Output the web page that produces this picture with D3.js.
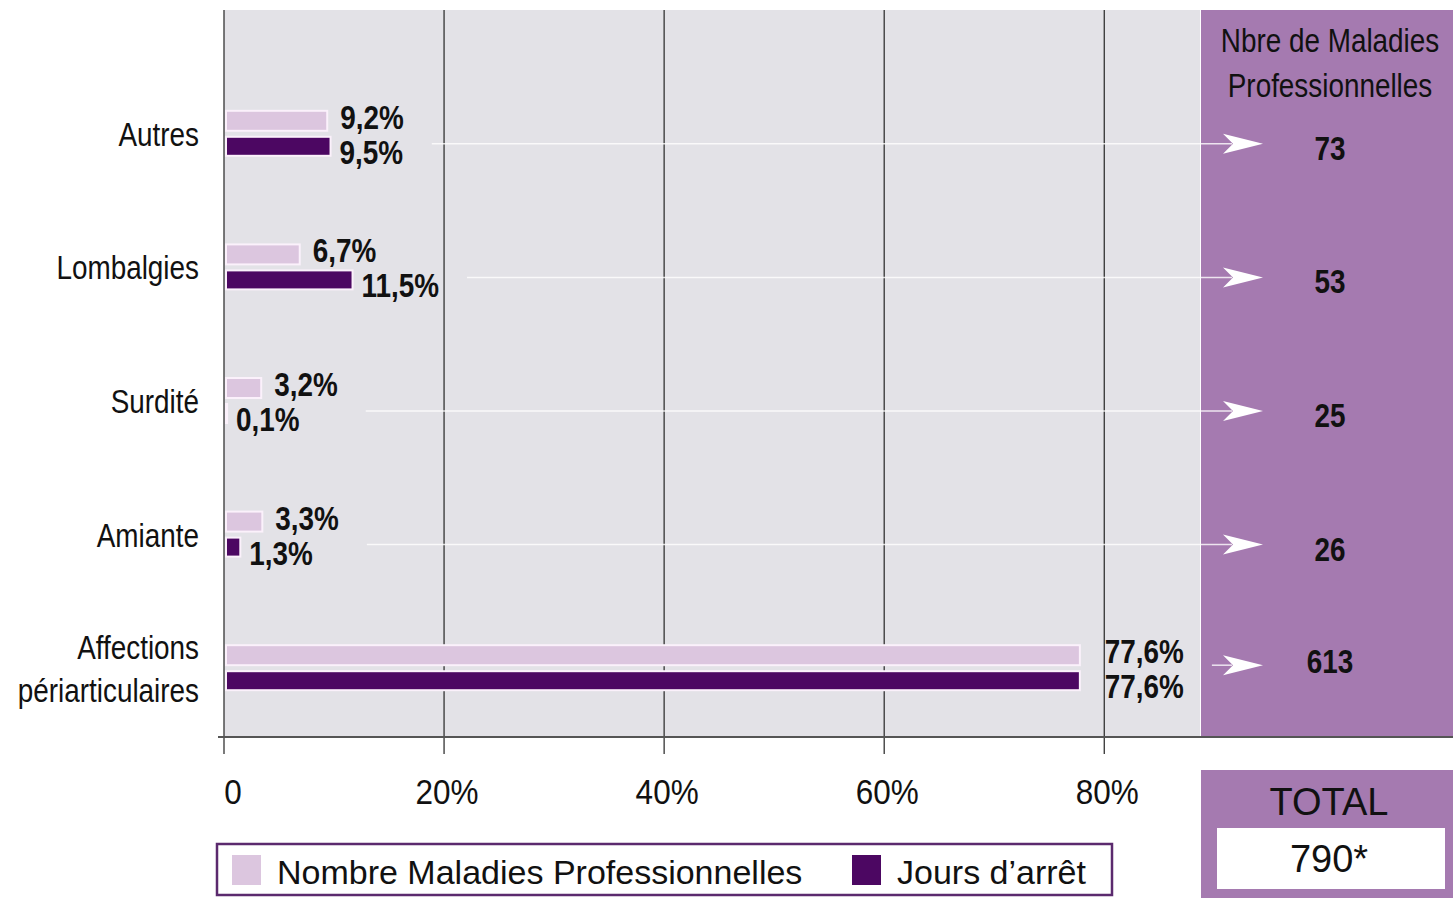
<!DOCTYPE html>
<html>
<head>
<meta charset="utf-8">
<script src="https://cdn.jsdelivr.net/npm/d3@7"></script>
<style>
  html, body { margin: 0; padding: 0; background: #fff; }
  svg { display: block; }
</style>
</head>
<body>
<div id="chart"></div>
<script>
// Data
const categories = ["Autres", "Lombalgies", "Surdité", "Amiante", "Affections périarticulaires"];
const nbMaladiesPct = [9.2, 6.7, 3.2, 3.3, 77.6];
const joursArretPct = [9.5, 11.5, 0.1, 1.3, 77.6];
const nbMaladies = [73, 53, 25, 26, 613];
const totalLabel = "790*";
const xTicks = [0, 20, 40, 60, 80];
const xTickLabels = ["0", "20%", "40%", "60%", "80%"];
const seriesNames = ["Nombre Maladies Professionnelles", "Jours d’arrêt"];
const panelTitle = ["Nbre de Maladies", "Professionnelles"];

function drawChart() {
  const width = 1453;
  const height = 898;
  const top = 10;
  const axisY = 737;
  const xMax = 88.7;
  const squeeze = 0.82; // condensed look, no narrow font installed

  const lightCol = "#dcc6df";
  const darkCol = "#4c0762";
  const panelCol = "#a57ab0";
  const plotBg = "#e3e2e7";
  const sans = "'Liberation Sans', Arial, sans-serif";

  const svg = d3.select("#chart")
    .append("svg")
    .attr("width", width)
    .attr("height", height);

  const x = d3.scaleLinear().domain([0, xMax]).range([224, 1200]);
  const y = d3.scaleBand().domain(categories).range([67, 735]);
  const fmt = (v) => d3.format(".1f")(v).replace(".", ",") + "%";

  // condensed text helper
  function narrowText(parent, tx, ty, str, size, bold, anchor) {
    return parent.append("text")
      .attr("transform", `translate(${tx},${ty}) scale(${squeeze},1)`)
      .attr("text-anchor", anchor || "start")
      .style("font-family", sans)
      .style("font-size", size + "px")
      .style("font-weight", bold ? "bold" : "normal")
      .attr("fill", "#111")
      .text(str);
  }

  // Background of plot and right panel
  svg.append("rect")
    .attr("x", x(0)).attr("y", top)
    .attr("width", x(xMax) - x(0)).attr("height", axisY - top)
    .attr("fill", plotBg);

  svg.append("rect")
    .attr("x", x(xMax) + 1).attr("y", top)
    .attr("width", width - x(xMax) - 1).attr("height", axisY - top)
    .attr("fill", panelCol);

  // Vertical grid lines with ticks below the axis
  svg.selectAll(".grid")
    .data(xTicks)
    .enter()
    .append("line")
    .attr("x1", (d) => x(d)).attr("x2", (d) => x(d))
    .attr("y1", top).attr("y2", axisY + 17)
    .attr("stroke", "#333")
    .attr("stroke-width", 1.3);

  svg.append("line")
    .attr("x1", 218).attr("x2", width)
    .attr("y1", axisY).attr("y2", axisY)
    .attr("stroke", "#555")
    .attr("stroke-width", 2);

  // Tick labels
  svg.selectAll(".tick-label")
    .data(xTicks)
    .enter()
    .append("text")
    .attr("transform", (d) => `translate(${x(d) + (d === 0 ? 9 : 3)},804) scale(0.9,1)`)
    .attr("text-anchor", "middle")
    .style("font-family", sans)
    .style("font-size", "35px")
    .attr("fill", "#111")
    .text((d, i) => xTickLabels[i]);

  // Category labels
  categories.forEach((c) => {
    const lines = c.split(" ");
    const cy = y(c) + y.bandwidth() / 2;
    lines.forEach((line, j) => {
      narrowText(svg, 199, cy + (j - (lines.length - 1) / 2) * 43 + 12, line, 34, false, "end");
    });
  });

  const rows = categories.map((c, i) => ({
    cat: c, light: nbMaladiesPct[i], dark: joursArretPct[i], n: nbMaladies[i], i
  }));
  const cy = (d) => y(d.cat) + y.bandwidth() / 2;
  const last = rows.length - 1;

  // Arrow lines first so they sit behind everything
  const arrowG = svg.append("g");

  // Bars
  svg.selectAll(".bar-light")
    .data(rows)
    .enter()
    .append("rect")
    .attr("x", x(0) + 2)
    .attr("y", (d) => cy(d) - 23)
    .attr("width", (d) => x(d.light) - x(0))
    .attr("height", 20)
    .attr("fill", lightCol)
    .attr("stroke", "#fbf1fb")
    .attr("stroke-width", 2);

  svg.selectAll(".bar-dark")
    .data(rows)
    .enter()
    .append("rect")
    .attr("x", x(0) + 2)
    .attr("y", (d) => cy(d) + 3)
    .attr("width", (d) => x(d.dark) - x(0))
    .attr("height", 19)
    .attr("fill", darkCol)
    .attr("stroke", "#fbf1fb")
    .attr("stroke-width", 2);

  // Value labels (big bar labels sit a little further out, as in the original)
  const gap = (d, base) => (d.i === last ? 27 : base);
  const lightLabels = rows.map((d) =>
    narrowText(svg, x(d.light) + gap(d, 15), cy(d) - 5, fmt(d.light), 34, true));
  const darkLabels = rows.map((d) =>
    narrowText(svg, x(d.dark) + gap(d, 11), cy(d) + 30, fmt(d.dark), 34, true));

  const endOf = (t) => t.node().getBoundingClientRect().right;
  const arrowY = (d) => cy(d) + (d.i === last ? -3 : 10);

  // Arrows to the panel
  arrowG.selectAll("line")
    .data(rows)
    .enter()
    .append("line")
    .attr("x1", (d) => Math.max(endOf(lightLabels[d.i]), endOf(darkLabels[d.i])) + 28)
    .attr("x2", 1232)
    .attr("y1", arrowY).attr("y2", arrowY)
    .attr("stroke", "#ffffff")
    .attr("stroke-opacity", 0.8)
    .attr("stroke-width", 1.5);

  svg.selectAll(".arrow-head")
    .data(rows)
    .enter()
    .append("path")
    .attr("transform", (d) => `translate(1263, ${arrowY(d)})`)
    .attr("d", "M0,0 L-40,-10 L-30,0 L-40,10 Z")
    .attr("fill", "#ffffff");

  // Panel title and counts
  panelTitle.forEach((t, j) => {
    narrowText(svg, 1330, 52 + j * 45, t, 34, false, "middle");
  });

  rows.forEach((d) => {
    narrowText(svg, 1330, arrowY(d) + (d.i === last ? 8 : 16), d.n, 34, true, "middle");
  });

  // Total box
  svg.append("rect")
    .attr("x", 1201).attr("y", 770)
    .attr("width", width - 1201).attr("height", height - 770)
    .attr("fill", panelCol);
  svg.append("text")
    .attr("x", 1329).attr("y", 815)
    .attr("text-anchor", "middle")
    .style("font-family", sans)
    .style("font-size", "38px")
    .attr("fill", "#111")
    .text("TOTAL");
  svg.append("rect")
    .attr("x", 1217).attr("y", 828)
    .attr("width", 228).attr("height", 61)
    .attr("fill", "#fff");
  svg.append("text")
    .attr("x", 1329).attr("y", 872)
    .attr("text-anchor", "middle")
    .style("font-family", sans)
    .style("font-size", "38px")
    .attr("fill", "#111")
    .text(totalLabel);

  // Legend
  svg.append("rect")
    .attr("x", 217).attr("y", 844)
    .attr("width", 895).attr("height", 51)
    .attr("fill", "#fff")
    .attr("stroke", "#5b2a6e")
    .attr("stroke-width", 2.5);

  const legendX = [232, 852];
  const legendCols = [lightCol, darkCol];
  seriesNames.forEach((s, i) => {
    svg.append("rect")
      .attr("x", legendX[i]).attr("y", 855)
      .attr("width", 29).attr("height", 30)
      .attr("fill", legendCols[i]);
    svg.append("text")
      .attr("x", legendX[i] + 45).attr("y", 884)
      .style("font-family", sans)
      .style("font-size", "34px")
      .attr("fill", "#111")
      .text(s);
  });
}

window.onload = function () {
  drawChart();
};
</script>
</body>
</html>
